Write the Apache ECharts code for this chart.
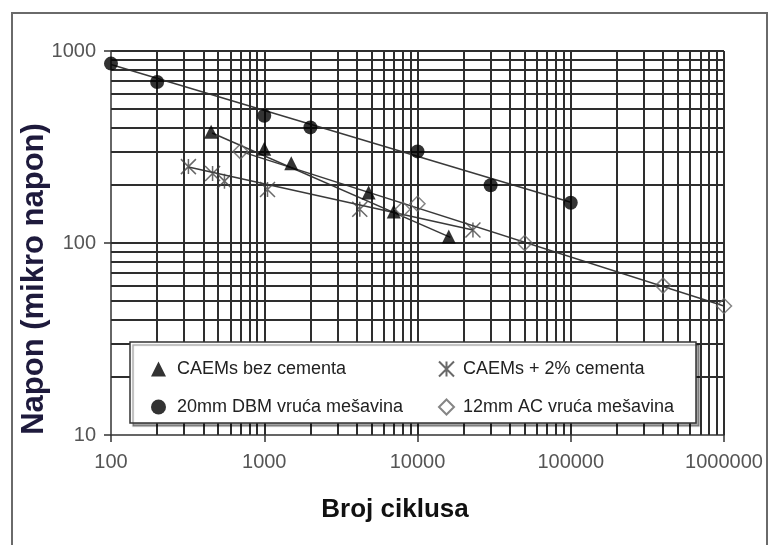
<!DOCTYPE html>
<html>
<head>
<meta charset="utf-8">
<script src="https://cdn.jsdelivr.net/npm/echarts@6/dist/echarts.min.js"></script>
<style>html,body{margin:0;padding:0;background:#fff}#c{width:768px;height:545px}</style>
</head>
<body>
<div id="c"></div>
<script>
// ---- data ----
const seriesNames = ['CAEMs bez cementa', 'CAEMs + 2% cementa', '20mm DBM vruća mešavina', '12mm AC vruća mešavina'];
const caemsBez = [[450, 380], [1000, 310], [1500, 260], [4800, 183], [7000, 146], [16000, 108]];
const caems2 = [[320, 250], [460, 230], [550, 210], [1050, 190], [4200, 150], [23000, 117]];
const dbm20 = [[100, 860], [200, 690], [1000, 460], [2000, 400], [10000, 300], [30000, 200], [100000, 162]];
const ac12 = [[700, 300], [8000, 150], [10000, 160], [50000, 100], [400000, 60], [1000000, 47]];
// trend lines (end points)
const trendBez = [[457, 374], [16400, 107]];
const trend2 = [[320, 249], [23000, 117]];
const trendDbm = [[100, 850], [100000, 163]];
const trendAc = [[700, 300], [1000000, 47]];
// grid line positions
const xGridValues = [200,300,400,500,600,700,800,900,1000,2000,3000,4000,5000,6000,7000,8000,9000,10000,20000,30000,40000,50000,60000,70000,80000,90000,100000,200000,300000,400000,500000,600000,700000,800000,900000,1000000];
const yGridValues = [20,30,40,50,60,70,80,90,100,200,300,400,500,600,700,800,900,1000];
const xTitle = 'Broj ciklusa';
const yTitle = 'Napon (mikro napon)';

const FONT = 'Arial, "Liberation Sans", sans-serif';
const chart = echarts.init(document.getElementById('c'), null, {renderer: 'canvas'});
const gridMarks = xGridValues.map(v => ({xAxis: v})).concat(yGridValues.map(v => ({yAxis: v})));
const starPath = 'path://M0,0L10,10M10,0L0,10M5,0L5,10';
const plain = v => String(Math.round(v));

function trend(name, data) {
  return {name: name, type: 'line', data: data, symbol: 'none', silent: true, z: 3,
    lineStyle: {color: '#3a3a3a', width: 1.5}};
}

chart.setOption({
  animation: false,
  backgroundColor: '#fff',
  grid: {left: 111, right: 44, top: 51, bottom: 110, containLabel: false},
  xAxis: {
    type: 'log', logBase: 10, min: 100, max: 1000000,
    axisLine: {show: true, lineStyle: {color: '#333', width: 1.5}},
    axisTick: {show: true, length: 7, lineStyle: {color: '#333', width: 1.5}},
    axisLabel: {fontFamily: FONT, fontSize: 20, color: '#555', margin: 17, formatter: plain},
    splitLine: {show: false}
  },
  yAxis: {
    type: 'log', logBase: 10, min: 10, max: 1000,
    axisLine: {show: true, lineStyle: {color: '#333', width: 1.5}},
    axisTick: {show: true, length: 7, lineStyle: {color: '#333', width: 1.5}},
    axisLabel: {fontFamily: FONT, fontSize: 20, color: '#555', margin: 15, formatter: plain},
    splitLine: {show: false}
  },
  graphic: [
    {type: 'rect', z: 0, silent: true, shape: {x: 12, y: 13, width: 755, height: 560},
      style: {fill: 'none', stroke: '#6a6a6a', lineWidth: 2}},
    {type: 'rect', z: 10, silent: true, shape: {x: 130, y: 342, width: 566, height: 81},
      style: {fill: '#fff', stroke: '#333', lineWidth: 1.5, shadowColor: 'rgba(0,0,0,0.35)', shadowOffsetX: 3, shadowOffsetY: 3, shadowBlur: 1}},
    {type: 'text', z: 10, silent: true, x: 395, y: 510,
      style: {text: xTitle, font: 'bold 26px ' + FONT, fill: '#111', align: 'center', verticalAlign: 'middle'}},
    {type: 'text', z: 10, silent: true, x: 34, y: 279, rotation: Math.PI / 2,
      style: {text: yTitle, font: 'bold 31px ' + FONT, fill: '#1e1a3c', align: 'center', verticalAlign: 'middle'}}
  ],
  legend: [
    {data: [seriesNames[0], seriesNames[2]], orient: 'vertical', left: 146, top: 355, z: 20,
      itemWidth: 15, itemHeight: 15, itemGap: 20,
      textStyle: {fontFamily: FONT, fontSize: 18, color: '#222', padding: [0, 0, 0, 6]}},
    {data: [seriesNames[1], seriesNames[3]], orient: 'vertical', left: 433, top: 355, z: 20,
      itemWidth: 15, itemHeight: 15, itemGap: 20,
      textStyle: {fontFamily: FONT, fontSize: 18, color: '#222', padding: [0, 0, 0, 4]}}
  ],
  series: [
    {name: 'grid', type: 'line', data: [], silent: true, z: 1,
      markLine: {silent: true, symbol: ['none', 'none'], label: {show: false},
        lineStyle: {color: '#2e2e2e', width: 2, type: 'solid'}, emphasis: {disabled: true},
        data: gridMarks}},
    trend('t1', trendBez), trend('t2', trend2), trend('t3', trendDbm), trend('t4', trendAc),
    {name: seriesNames[0], type: 'scatter', data: caemsBez, symbol: 'triangle', symbolSize: 14, z: 5,
      itemStyle: {color: '#000'}},
    {name: seriesNames[1], type: 'scatter', data: caems2, symbol: starPath, symbolSize: 15, z: 5,
      itemStyle: {color: 'rgba(0,0,0,0)', borderColor: '#444', borderWidth: 1.5}},
    {name: seriesNames[2], type: 'scatter', data: dbm20, symbol: 'circle', symbolSize: 14, z: 5,
      itemStyle: {color: '#000'}},
    {name: seriesNames[3], type: 'scatter', data: ac12, symbol: 'diamond', symbolSize: 15, z: 5,
      itemStyle: {color: 'rgba(255,255,255,0)', borderColor: '#666', borderWidth: 1.5}}
  ]
});
</script>
</body>
</html>
